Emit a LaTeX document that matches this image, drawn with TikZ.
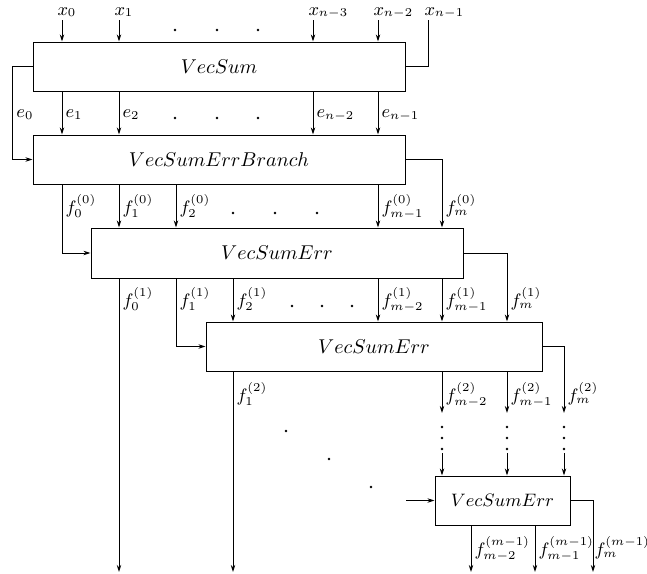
\documentclass[tikz,border=0pt]{standalone}
\usetikzlibrary{arrows.meta}
\begin{document}
\begin{tikzpicture}[x=0.5pt,y=-0.5pt,
  line width=0.5pt,
  box/.style={draw, rectangle, inner sep=0pt, minimum height=24.5pt},
  arr/.style={-{Stealth[length=3.5pt,width=2.2pt]}},
  lab/.style={anchor=base west, inner sep=0pt, font=\small},
  dot/.style={circle, fill, inner sep=0pt, minimum size=1.3pt}]
\useasboundingbox (0,0) rectangle (647,573);

% boxes
\node[box, minimum width=186pt] (b1) at (219,66.5) {$VecSum$};
\node[box, minimum width=186pt] (b2) at (219,159.5) {$VecSumErrBranch$};
\node[box, minimum width=186pt, minimum height=25pt] (b3) at (277,253) {$VecSumErr$};
\node[box, minimum width=168pt] (b4) at (374,346.5) {$VecSumErr$};
\node[box, minimum width=67.5pt, font=\small] (b5) at (502.5,500.5) {$VecSumErr$};

% column coordinates
\coordinate (cL) at (12,0);
\coordinate (cA) at (62,0);
\coordinate (cB) at (119,0);
\coordinate (cC) at (176,0);
\coordinate (cD) at (233,0);
\coordinate (cR1) at (313,0);
\coordinate (cR2) at (378,0);
\coordinate (cR3) at (442,0);
\coordinate (cR4) at (507,0);
\coordinate (cO1) at (471,0);
\coordinate (cO2) at (535,0);

% free ends
\coordinate (in0) at (62,20);
\coordinate (in1) at (119,20);
\coordinate (in3) at (313,20);
\coordinate (in4) at (378,20);
\coordinate (in5) at (428,20);
\coordinate (endB) at (119,572);
\coordinate (endD) at (233,572);
\coordinate (v1) at (442,413);
\coordinate (v2) at (507,413);
\coordinate (v3) at (564,413);
\coordinate (w1) at (442,453);
\coordinate (w2) at (507,453);
\coordinate (w3) at (564,453);
\coordinate (w0) at (406,500.5);
\coordinate (endO1) at (471,572);
\coordinate (endO2) at (535,572);
\coordinate (endO3) at (593,572);

% inputs of box 1
\draw[arr] (in0) -- (b1.north -| in0);
\draw[arr] (in1) -- (b1.north -| in1);
\draw[arr] (in3) -- (b1.north -| in3);
\draw[arr] (in4) -- (b1.north -| in4);
\draw (in5) |- (b1.east);

% box 1 -> box 2
\draw[arr] (b1.west) -- (b1.west -| cL) |- (b2.west);
\draw[arr] (b1.south -| cA) -- (b2.north -| cA);
\draw[arr] (b1.south -| cB) -- (b2.north -| cB);
\draw[arr] (b1.south -| cR1) -- (b2.north -| cR1);
\draw[arr] (b1.south -| cR2) -- (b2.north -| cR2);

% box 2 -> box 3
\draw[arr] (b2.east) -| (b3.north -| cR3);
\draw[arr] (b2.south -| cA) |- (b3.west);
\draw[arr] (b2.south -| cB) -- (b3.north -| cB);
\draw[arr] (b2.south -| cC) -- (b3.north -| cC);
\draw[arr] (b2.south -| cR2) -- (b3.north -| cR2);

% box 3 -> box 4
\draw[arr] (b3.east) -| (b4.north -| cR4);
\draw[arr] (b3.south -| cB) -- (endB);
\draw[arr] (b3.south -| cC) |- (b4.west);
\draw[arr] (b3.south -| cD) -- (b4.north -| cD);
\draw[arr] (b3.south -| cR2) -- (b4.north -| cR2);
\draw[arr] (b3.south -| cR3) -- (b4.north -| cR3);

% box 4 outputs
\draw[arr] (b4.east) -| (v3);
\draw[arr] (b4.south -| cD) -- (endD);
\draw[arr] (b4.south -| cR3) -- (v1);
\draw[arr] (b4.south -| cR4) -- (v2);

% into box 5
\draw[arr] (w1) -- (b5.north -| w1);
\draw[arr] (w2) -- (b5.north -| w2);
\draw[arr] (w3) -- (b5.north -| w3);
\draw[arr] (w0) -- (b5.west);

% box 5 outputs
\draw[arr] (b5.east) -| (endO3);
\draw[arr] (b5.south -| cO1) -- (endO1);
\draw[arr] (b5.south -| cO2) -- (endO2);

% labels
\node[lab] (lx0) at (57,15) {$x_0$};
\node[lab] (lx1) at (114,15) {$x_1$};
\node[lab] (lx3) at (308,15) {$x_{n-3}$};
\node[lab] (lx4) at (373,15) {$x_{n-2}$};
\node[lab] (lx5) at (424,15) {$x_{n-1}$};

\node[lab] (le0) at (16,117) {$e_0$};
\node[lab] (le1) at (65,117) {$e_1$};
\node[lab] (le2) at (122,117) {$e_2$};
\node[lab] (le3) at (316,117) {$e_{n-2}$};
\node[lab] (le4) at (381,117) {$e_{n-1}$};

\node[lab] (lf00) at (65,213) {$f_0^{(0)}$};
\node[lab] (lf01) at (122,213) {$f_1^{(0)}$};
\node[lab] (lf02) at (179,213) {$f_2^{(0)}$};
\node[lab] (lf03) at (381,213) {$f_{m-1}^{(0)}$};
\node[lab] (lf04) at (445,213) {$f_m^{(0)}$};

\node[lab] (lf10) at (122,306) {$f_0^{(1)}$};
\node[lab] (lf11) at (179,306) {$f_1^{(1)}$};
\node[lab] (lf12) at (236,306) {$f_2^{(1)}$};
\node[lab] (lf13) at (381,306) {$f_{m-2}^{(1)}$};
\node[lab] (lf14) at (445,306) {$f_{m-1}^{(1)}$};
\node[lab] (lf15) at (510,306) {$f_m^{(1)}$};

\node[lab] (lf21) at (236,401) {$f_1^{(2)}$};
\node[lab] (lf22) at (445,401) {$f_{m-2}^{(2)}$};
\node[lab] (lf23) at (510,401) {$f_{m-1}^{(2)}$};
\node[lab] (lf24) at (567,401) {$f_m^{(2)}$};

\node[lab] (lf31) at (474,555) {$f_{m-2}^{(m-1)}$};
\node[lab] (lf32) at (538,555) {$f_{m-1}^{(m-1)}$};
\node[lab] (lf33) at (594,555) {$f_m^{(m-1)}$};

% dots
\foreach \x/\y [count=\i] in {175/30, 217/30, 258/30,
  175/118, 217/118, 258/118,
  233/213, 275/213, 317/213,
  292/306, 322/306, 352/306,
  442/427, 442/438, 442/449,
  507/427, 507/438, 507/449,
  564/427, 564/438, 564/449,
  286/431, 329/459, 371/487}
  \node[dot] (dot\i) at (\x,\y) {};
\end{tikzpicture}
\end{document}
